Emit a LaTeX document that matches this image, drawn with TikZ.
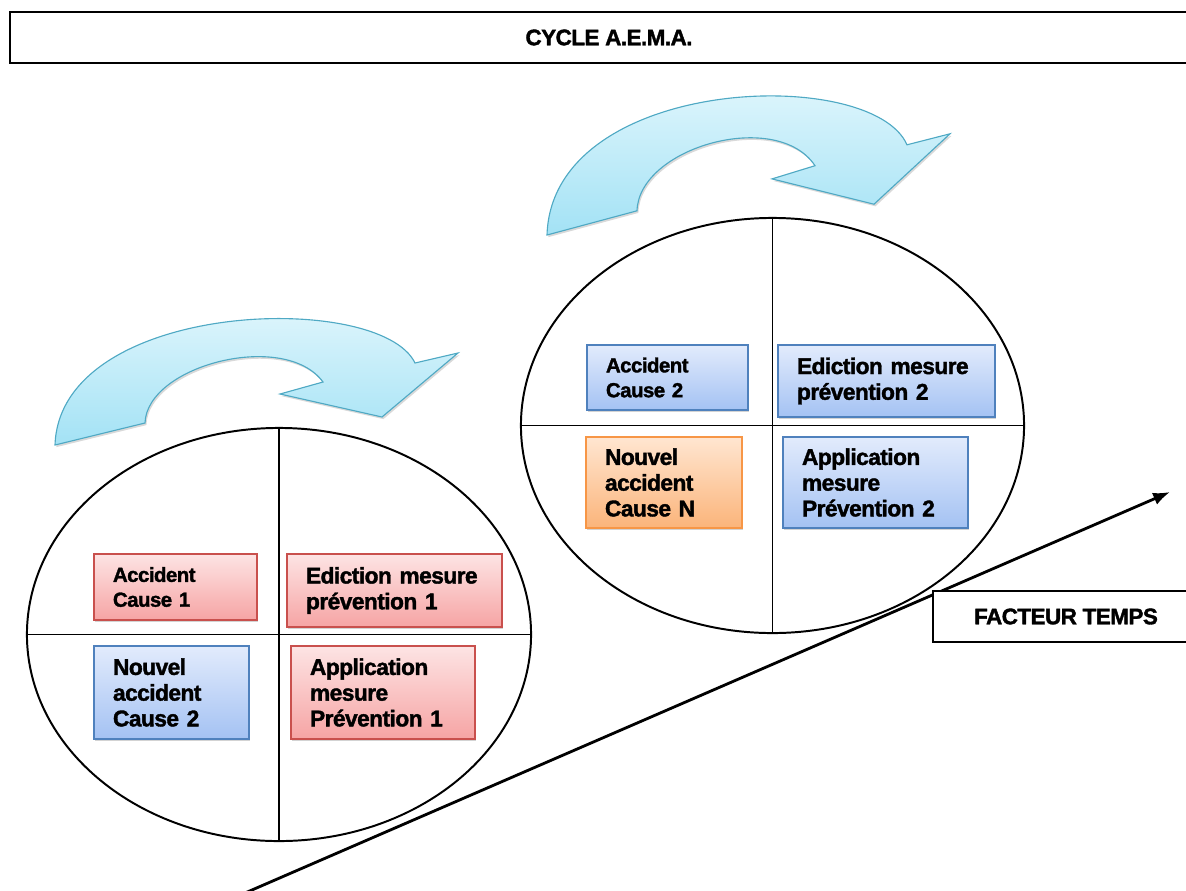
\documentclass[tikz,border=0pt]{standalone}
\usepackage{fontspec}
\setmainfont{Liberation Sans}[BoldFeatures={FakeBold=1.6,LetterSpace=-2.5}]
\usepackage{tikz}
\usetikzlibrary{shapes.geometric,arrows.meta,shadows}

\definecolor{redtop}{HTML}{FDE4E4}
\definecolor{redbot}{HTML}{F6A4A4}
\definecolor{redline}{HTML}{C9504D}
\definecolor{bluetop}{HTML}{E2EBFC}
\definecolor{bluebot}{HTML}{A4C2F3}
\definecolor{blueline}{HTML}{4F81BD}
\definecolor{orangetop}{HTML}{FFE6D1}
\definecolor{orangebot}{HTML}{FBB47A}
\definecolor{orangeline}{HTML}{F79646}
\definecolor{turntop}{HTML}{E6F8FD}
\definecolor{turnbot}{HTML}{A3E2F5}
\definecolor{turnline}{HTML}{4FA9C4}

\tikzset{
  cycle/.style={draw,ellipse,line width=1.4pt,inner sep=0pt},
  cut/.style={line width=1.4pt},
  cell/.style={draw,rectangle,align=left,inner xsep=0.475cm,inner ysep=0pt,
    line width=0.8pt,drop shadow={opacity=0.35,shadow xshift=1pt,shadow yshift=-1.5pt}},
  smalltxt/.style={font=\bfseries\fontsize{14.5}{17.7}\selectfont},
  bigtxt/.style={font=\bfseries\fontsize{16.2}{18.3}\selectfont},
  redcell/.style={cell,draw=redline,top color=redtop,bottom color=redbot},
  bluecell/.style={cell,draw=blueline,top color=bluetop,bottom color=bluebot},
  orangecell/.style={cell,draw=orangeline,top color=orangetop,bottom color=orangebot},
  banner/.style={draw,rectangle,line width=1.5pt,minimum height=1.275cm,
    font=\bfseries\fontsize{16}{18}\selectfont},
  timeline/.style={line width=2pt,-{Latex[length=0.42cm,width=0.32cm]}},
  turnarrow/.pic={
    \draw[turnline,line width=0.8pt,top color=turntop,bottom color=turnbot,
      drop shadow={opacity=0.3,shadow xshift=1pt,shadow yshift=-1.5pt}]
      (0,0) -- (90,-22) .. controls (92,-80) and (230,-115) .. (268,-63)
      -- (225,-51) -- (327,-28) -- (403,-92) -- (360,-82)
      .. controls (325,-155) and (5,-145) .. cycle;
  }
}

\begin{document}
\begin{tikzpicture}[x=0.025cm,y=-0.025cm]
\useasboundingbox (0,0) rectangle (1186,890);

\node[banner,minimum width=29.95cm] (title) at (609,37.5) {CYCLE A.E.M.A.};

\pic (turn1) at (55,445) {turnarrow};
\pic[yscale=1.1] (turn2) at (547,235) {turnarrow};

\node[cycle,minimum width=12.6cm,minimum height=10.325cm] (cyc1) at (279,634.5) {};
\draw[cut] (cyc1.north) -- (cyc1.south);
\draw[cut] (cyc1.west) -- (cyc1.east);
\node[cycle,minimum width=12.575cm,minimum height=10.375cm] (cyc2) at (772.5,425.5) {};
\draw[cut] (cyc2.north) -- (cyc2.south);
\draw[cut] (cyc2.west) -- (cyc2.east);

\coordinate (t0) at (245,893);
\coordinate (t1) at (1170,492);
\draw[timeline] (t0) -- (t1);

\node[redcell,smalltxt,text width=3.125cm,minimum height=1.65cm] (acc1) at (175.5,587) {Accident\\Cause 1};
\node[redcell,bigtxt,text width=4.425cm,minimum height=1.825cm] (edi1) at (394.5,590.5) {Ediction mesure\\prévention 1};
\node[bluecell,bigtxt,text width=2.925cm,minimum height=2.325cm] (nouv1) at (171.5,692.5) {Nouvel\\accident\\Cause 2};
\node[redcell,bigtxt,text width=3.65cm,minimum height=2.325cm] (app1) at (383,692.5) {Application\\mesure\\Prévention 1};

\node[bluecell,smalltxt,text width=3.075cm,minimum height=1.625cm] (acc2) at (667.5,377.5) {Accident\\Cause 2};
\node[bluecell,bigtxt,text width=4.475cm,minimum height=1.8cm] (edi2) at (886.5,381) {Ediction mesure\\prévention 2};
\node[orangecell,bigtxt,text width=2.95cm,minimum height=2.275cm] (nouvN) at (664,482.5) {Nouvel\\accident\\Cause N};
\node[bluecell,bigtxt,text width=3.675cm,minimum height=2.275cm] (app2) at (875.5,482.5) {Application\\mesure\\Prévention 2};

\node[banner,fill=white,minimum width=6.65cm] (temps) at (1066,616.5) {FACTEUR TEMPS};
\end{tikzpicture}
\end{document}
